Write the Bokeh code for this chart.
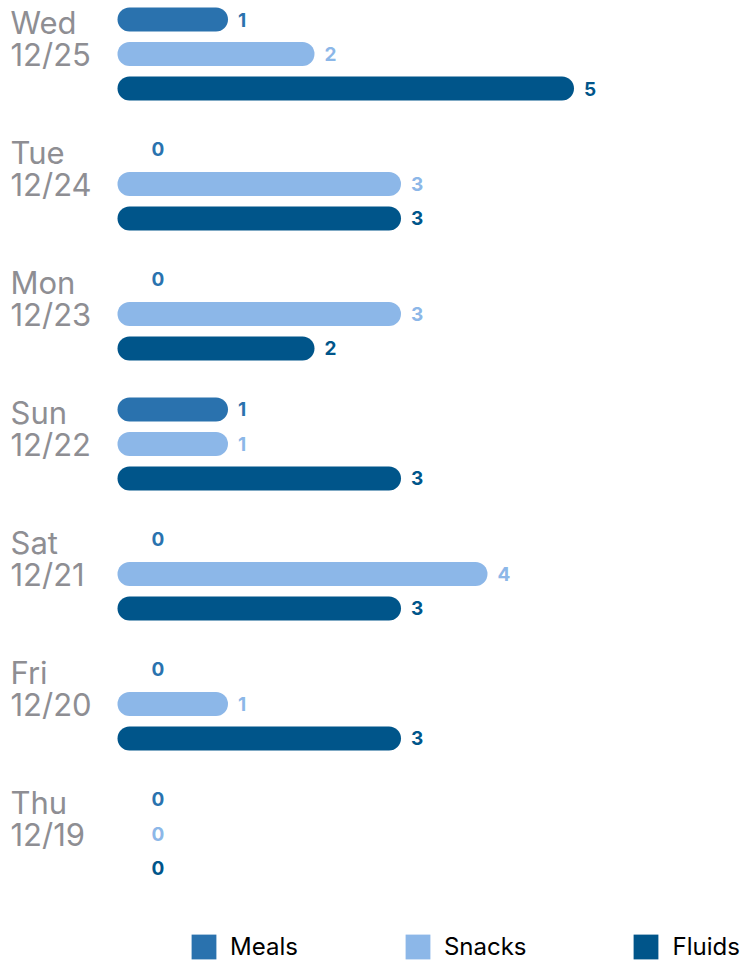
from bokeh.plotting import figure
from bokeh.models import Range1d, ColumnDataSource, Legend, LegendItem
from bokeh.core.properties import value
from bokeh.embed import file_html
from bokeh.resources import INLINE

# ---- data ----
weekdays = ["Wed", "Tue", "Mon", "Sun", "Sat", "Fri", "Thu"]
dates = ["12/25", "12/24", "12/23", "12/22", "12/21", "12/20", "12/19"]
series = ["Meals", "Snacks", "Fluids"]
meals = [1, 0, 0, 1, 0, 0, 0]
snacks = [2, 3, 3, 1, 4, 1, 0]
fluids = [5, 3, 2, 3, 3, 3, 0]
colors = ["#2A72AE", "#8CB7E8", "#00558A"]

FONT = "Inter"
GROUP = 3.768  # rows per day group (incl. gap)

p = figure(width=747, height=963, output_backend="svg", toolbar_location=None,
           x_range=Range1d(-129 / 86.5, 618 / 86.5),
           y_range=Range1d(944 / 34.5, -19 / 34.5),
           min_border=0, outline_line_color=None)
p.axis.visible = False
p.grid.visible = False
p.background_fill_color = "white"

for s, (name, vals, col) in enumerate(zip(series, [meals, snacks, fluids], colors)):
    rows = [i * GROUP + s for i in range(len(vals))]
    bar = ColumnDataSource(dict(x0=[0 for v in vals if v > 0],
                                x1=[v for v in vals if v > 0],
                                y=[r for r, v in zip(rows, vals) if v > 0]))
    p.segment(x0="x0", y0="y", x1="x1", y1="y", source=bar, line_color=col,
              line_width=24, line_cap="round")
    lab = ColumnDataSource(dict(x=vals, y=rows, t=[str(v) for v in vals]))
    p.text(x="x", y="y", text="t", source=lab, x_offset=22, text_align="left",
           text_baseline="middle", text_font=value(FONT), text_font_size="19px",
           text_font_style="bold", text_color=col)

day_rows = [i * GROUP for i in range(len(weekdays))]
p.text(x=[0] * len(weekdays), y=day_rows, text=weekdays, x_offset=-119, y_offset=3,
       text_align="left", text_baseline="middle", text_font=value(FONT),
       text_font_size="31px", text_color="#8E8E93")
p.text(x=[0] * len(dates), y=day_rows, text=dates, x_offset=-119, y_offset=35,
       text_align="left", text_baseline="middle", text_font=value(FONT),
       text_font_size="31px", text_color="#8E8E93")

items = []
for name, col in zip(series, colors):
    # degenerate (zero-area) quad: only serves as the legend swatch
    r = p.quad(left=[0], right=[0], top=[0], bottom=[0], fill_color=col, line_color=None)
    items.append(LegendItem(label=name, renderers=[r]))
legend = Legend(items=items, orientation="horizontal", location=(188, 1),
                glyph_width=31, glyph_height=31, label_standoff=11, spacing=104,
                padding=0, margin=0, border_line_color=None, background_fill_alpha=0,
                label_text_font=FONT, label_text_font_size="24px",
                label_text_color="#000000")
p.add_layout(legend, "center")

open("out.html", "w").write(file_html(p, INLINE))
